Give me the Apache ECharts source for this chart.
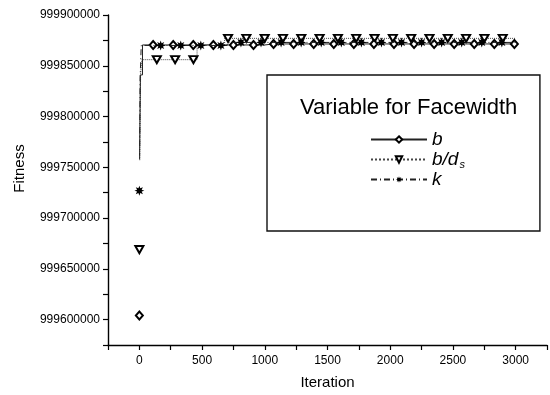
<!DOCTYPE html>
<html>
<head>
<meta charset="utf-8">
<script src="https://cdn.jsdelivr.net/npm/echarts@6/dist/echarts.min.js"></script>
<style>
html,body{margin:0;padding:0;background:#fff;}
#c{width:550px;height:395px;}
</style>
</head>
<body>
<div id="c"></div>
<script>
// ---- data ----
const seriesNames = ['b', 'b/ds', 'k'];

// b : solid line, hollow diamonds
const bIter = [0, 1, 2, 8, 25, 110, 270, 430, 590, 750, 910, 1000, 1070, 1230, 1390, 1550, 1710, 1870, 2030, 2190, 2350, 2510, 2670, 2830, 2990];
const bFit  = [999604000, null, 999762000, 999841000, 999870500, 999870500, 999870500, 999870500, 999870500, 999870500, 999870500, 999871500, 999871500, 999871500, 999871500, 999871500, 999871500, 999871500, 999871500, 999871500, 999871500, 999871500, 999871500, 999871500, 999871500];
const bMarks = [0, 110, 270, 430, 590, 750, 910, 1070, 1230, 1390, 1550, 1710, 1870, 2030, 2190, 2350, 2510, 2670, 2830, 2990];

// b/ds : dotted line, hollow down-triangles
const bdIter = [0, 1, 3, 10, 20, 139, 285, 431, 460, 680, 707, 853, 999, 1145, 1291, 1437, 1583, 1729, 1875, 2021, 2167, 2313, 2459, 2605, 2751, 2897, 3000];
const bdFit  = [999669000, null, 999757000, 999842000, 999856000, 999856000, 999856000, 999856000, 999870500, 999877000, 999877000, 999877000, 999877000, 999877000, 999877000, 999877000, 999877000, 999877000, 999877000, 999877000, 999877000, 999877000, 999877000, 999877000, 999877000, 999877000, 999877000];
const bdMarks = [0, 139, 285, 431, 707, 853, 999, 1145, 1291, 1437, 1583, 1729, 1875, 2021, 2167, 2313, 2459, 2605, 2751, 2897];

// k : dashed line, stars
const kIter = [0, 1, 2, 6, 15, 170, 330, 490, 650, 700, 810, 970, 1130, 1290, 1450, 1610, 1770, 1930, 2090, 2250, 2410, 2570, 2730, 2890, 3000];
const kFit  = [999727000, null, 999758000, 999838000, 999870000, 999870000, 999870000, 999870000, 999870000, 999873000, 999873000, 999873000, 999873000, 999873000, 999873000, 999873000, 999873000, 999873000, 999873000, 999873000, 999873000, 999873000, 999873000, 999873000, 999873000];
const kMarks = [0, 170, 330, 490, 650, 810, 970, 1130, 1290, 1450, 1610, 1770, 1930, 2090, 2250, 2410, 2570, 2730, 2890];

const xTickLabels = [0, 500, 1000, 1500, 2000, 2500, 3000];
const yTickLabels = [999600000, 999650000, 999700000, 999750000, 999800000, 999850000, 999900000];

// ---- build ----
const STAR = 'path://M0,-10L1.9,-4.6L7.07,-7.07L4.6,-1.9L10,0L4.6,1.9L7.07,7.07L1.9,4.6L0,10L-1.9,4.6L-7.07,7.07L-4.6,1.9L-10,0L-4.6,-1.9L-7.07,-7.07L-1.9,-4.6Z';

function build(iters, fits, marks) {
  return iters.map((x, i) => {
    const y = fits[i];
    const item = { value: [x, y === null ? '-' : y] };
    if (marks.indexOf(x) < 0 || y === null) item.symbol = 'none';
    return item;
  });
}

const FONT = 'Liberation Sans, Arial, sans-serif';
const chart = echarts.init(document.getElementById('c'), null, { renderer: 'canvas' });

const option = {
  animation: false,
  backgroundColor: '#fff',
  grid: { left: 108, right: 3, top: 15, bottom: 49, containLabel: false },
  xAxis: {
    type: 'value', min: -250, max: 3250, interval: 250,
    name: 'Iteration', nameLocation: 'middle', nameGap: 30,
    nameTextStyle: { fontFamily: FONT, fontSize: 15, color: '#000' },
    axisLine: { onZero: false, lineStyle: { color: '#000', width: 1.4 } },
    axisTick: { inside: false, length: 5, lineStyle: { color: '#000', width: 1.2 } },
    axisLabel: {
      fontFamily: FONT, fontSize: 12, color: '#000', margin: 10,
      showMinLabel: true, showMaxLabel: true,
      formatter: v => xTickLabels.indexOf(Math.round(v)) >= 0 ? String(Math.round(v)) : ''
    },
    splitLine: { show: false }
  },
  yAxis: {
    type: 'value', min: 999575000, max: 999900000, interval: 25000,
    axisLine: { show: true, onZero: false, lineStyle: { color: '#000', width: 1.4 } },
    axisTick: { show: true, inside: false, length: 5, lineStyle: { color: '#000', width: 1.2 } },
    axisLabel: {
      fontFamily: FONT, fontSize: 12, color: '#000', margin: 8,
      showMinLabel: true, showMaxLabel: true,
      formatter: v => yTickLabels.indexOf(Math.round(v)) >= 0 ? String(Math.round(v)) : ''
    },
    splitLine: { show: false }
  },
  legend: {
    data: seriesNames,
    orient: 'vertical',
    left: 267, top: 75,
    padding: [55, 75, 42, 103],
    itemGap: 0,
    itemWidth: 56, itemHeight: 8,
    borderColor: '#111', borderWidth: 1.4,
    backgroundColor: 'rgba(255,255,255,0)',
    symbolRotate: 'inherit',
    textStyle: {
      fontFamily: FONT, fontSize: 19, color: '#000',
      rich: {
        i: { fontFamily: FONT, fontStyle: 'italic', fontSize: 19, lineHeight: 19, color: '#000' },
        sub: { fontFamily: FONT, fontStyle: 'italic', fontSize: 11, lineHeight: 11, padding: [10, 0, 0, 1], color: '#000' }
      }
    },
    formatter: function (name) {
      if (name === 'b/ds') return '{i|b/d}{sub|s}';
      return '{i|' + name + '}';
    }
  },
  graphic: [
    {
      type: 'text', left: 300, top: 97, z: 100,
      style: { text: 'Variable for Facewidth', fontFamily: FONT, fontSize: 22, fill: '#000' }
    },
    {
      type: 'text', x: 20, y: 168.5, rotation: Math.PI / 2, z: 100,
      style: { text: 'Fitness', fontFamily: FONT, fontSize: 15, fill: '#000', align: 'center', verticalAlign: 'middle' }
    }
  ],
  series: [
    {
      name: 'b', type: 'line', step: 'end', connectNulls: false,
      data: build(bIter, bFit, bMarks),
      symbol: 'emptyDiamond', symbolSize: [7, 8], showAllSymbol: true,
      lineStyle: { color: '#222', width: 1, type: 'solid' },
      itemStyle: { color: '#000', borderWidth: 1.5 },
      z: 3
    },
    {
      name: 'b/ds', type: 'line', step: 'end', connectNulls: false,
      data: build(bdIter, bdFit, bdMarks),
      symbol: 'emptyTriangle', symbolRotate: 180, symbolSize: [8, 7], showAllSymbol: true,
      lineStyle: { color: '#444', width: 1, type: 'dotted' },
      itemStyle: { color: '#000', borderWidth: 1.5 },
      z: 2
    },
    {
      name: 'k', type: 'line', step: 'end', connectNulls: false,
      data: build(kIter, kFit, kMarks),
      symbol: STAR, symbolSize: 10, showAllSymbol: true,
      lineStyle: { color: '#222', width: 1, type: [6, 3, 1, 3] },
      itemStyle: { color: '#000' },
      z: 4
    }
  ]
};
chart.setOption(option);
</script>
</body>
</html>
